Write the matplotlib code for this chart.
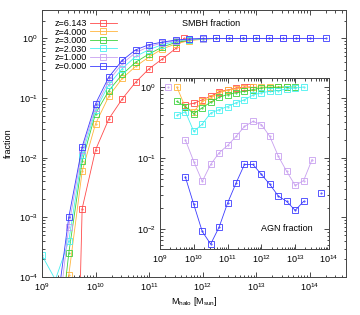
import numpy as np
import matplotlib
matplotlib.use('Agg')
import matplotlib.pyplot as plt

plt.rcParams['font.family'] = ['Liberation Sans', 'DejaVu Sans']
plt.rcParams['mathtext.fontset'] = 'custom'
plt.rcParams['mathtext.rm'] = 'Liberation Sans'
plt.rcParams['mathtext.it'] = 'Liberation Sans:italic'
plt.rcParams['font.size'] = 6.5

labels = ['z=6.143', 'z=4.000', 'z=3.000', 'z=2.030', 'z=1.000', 'z=0.000']
colors = ['#ff4a4a', '#ffb43c', '#3cd23c', '#46f0f0', '#c8a0f0', '#3c3cff']

# SMBH fraction (main panel), log10 halo mass and fraction
smbh_logm = [
    [9.5, 9.75, 10.0, 10.25, 10.5, 10.75, 11.0, 11.25, 11.5, 11.65],
    [9.25, 9.5, 9.75, 10.0, 10.25, 10.5, 10.75, 11.0, 11.25, 11.5, 11.75, 12.0, 12.25, 12.5, 12.75],
    [9.25, 9.5, 9.75, 10.0, 10.25, 10.5, 10.75, 11.0, 11.25, 11.5, 11.75, 12.0, 12.25, 12.5, 12.75, 13.0],
    [9.0, 9.25, 9.5, 9.75, 10.0, 10.25, 10.5, 10.75, 11.0, 11.25, 11.5, 11.75, 12.0, 12.25, 12.5, 12.75, 13.0, 13.25],
    [9.25, 9.5, 9.75, 10.0, 10.25, 10.5, 10.75, 11.0, 11.25, 11.5, 11.75, 12.0, 12.25, 12.5, 12.75, 13.0,
     13.25, 13.5, 13.75, 14.0],
    [9.25, 9.5, 9.75, 10.0, 10.25, 10.5, 10.75, 11.0, 11.25, 11.5, 11.75, 12.0, 12.25, 12.5, 12.75, 13.0,
     13.25, 13.5, 13.75, 14.0, 14.3],
]
smbh_frac = [
    [1e-12, 1.4e-3, 0.0135, 0.045, 0.097, 0.185, 0.31, 0.455, 0.68, 1.0],
    [1e-6, 1.07e-4, 0.0059, 0.037, 0.108, 0.215, 0.34, 0.49, 0.67, 0.81, 0.92, 0.97, 1.0, 1.0, 1.0],
    [2.5e-6, 2.5e-4, 0.0087, 0.055, 0.134, 0.25, 0.40, 0.55, 0.72, 0.86, 0.94, 0.98, 1.0, 1.0, 1.0, 1.0],
    [2.3e-4, 9e-5, 4e-4, 0.0112, 0.062, 0.169, 0.313, 0.50, 0.65, 0.79, 0.89, 0.96, 0.99,
     1.0, 1.0, 1.0, 1.0, 1.0],
    [8e-6, 7e-4, 0.0135, 0.069, 0.197, 0.38, 0.58, 0.73, 0.84, 0.92, 0.97, 0.99,
     1.0, 1.0, 1.0, 1.0, 1.0, 1.0, 1.0, 1.0],
    [2e-5, 1.0e-3, 0.0153, 0.080, 0.227, 0.43, 0.645, 0.787, 0.87, 0.94, 0.98,
     1.0, 1.0, 1.0, 1.0, 1.0, 1.0, 1.0, 1.0, 1.0, 1.0],
]

# AGN fraction (inset), nan = empty bin
agn_logm = [
    [9.75, 10.0, 10.25, 10.5, 10.75, 11.0, 11.25, 11.5, 11.65],
    [9.5, 9.75, 10.0, 10.25, 10.5, 10.75, 11.0, 11.25, 11.5, 11.75, 12.0, 12.25, 12.5, 12.75],
    [9.5, 9.75, 10.0, 10.25, 10.5, 10.75, 11.0, 11.25, 11.5, 11.75, 12.0, 12.25, 12.5, 12.75, 13.0],
    [9.5, 9.75, 10.0, 10.25, 10.5, 10.75, 11.0, 11.25, 11.5, 11.75, 12.0, 12.25, 12.5, 12.75, 13.0, 13.25],
    [9.25, 9.5, 9.75, 10.0, 10.25, 10.5, 10.75, 11.0, 11.25, 11.5, 11.75, 12.0, 12.25, 12.5, 12.75, 13.0,
     13.25, 13.5],
    [9.75, 10.0, 10.25, 10.5, 10.75, 11.0, 11.25, 11.5, 11.75, 12.0, 12.25, 12.5, 12.75, 13.0, 13.25,
     13.5, 13.75],
]
agn_frac = [
    [0.56, 0.59, 0.66, 0.74, 0.86, 0.91, 0.97, 1.0, 1.0],
    [1.0, 0.52, 0.45, 0.625, 0.70, 0.83, 0.90, 0.94, 0.97, 0.99, 1.0, 1.0, 1.0, 1.0],
    [0.625, 0.53, 0.42, 0.51, 0.61, 0.72, 0.78, 0.83, 0.87, 0.92, 0.97, 0.98, 0.99, 1.0, 1.0],
    [0.40, 0.45, 0.236, 0.30, 0.43, 0.48, 0.53, 0.60, 0.66, 0.77, 0.83, 0.87, 0.89, 0.94, 0.97, 1.0],
    [1.0, np.nan, 0.18, 0.089, 0.0467, 0.081, 0.118, 0.15, 0.201, 0.278, 0.327, 0.296, 0.201, 0.106,
     0.0645, 0.041, 0.048, 0.095],
    [0.054, 0.0221, 0.0092, 0.0061, 0.0106, 0.0231, 0.0442, 0.081, 0.081, 0.0586, 0.0424, 0.029,
     0.0244, 0.0182, 0.0244, np.nan, 0.0324],
]


def draw(ax, xs, ys, color, label=None):
    x = 10 ** np.array(xs)
    y = np.array(ys)
    ax.plot(x, y, '-', color=color, lw=0.6, marker='s', ms=3.8, mfc='none',
            mec=color, mew=0.6, label=label)
    ax.plot(x, y, ls='none', marker='.', ms=1.0, color=color)


def style(ax):
    ax.set_xscale('log')
    ax.set_yscale('log')
    ax.tick_params(which='both', direction='in', top=True, right=True, labelsize=6.5, pad=3)
    ax.tick_params(which='major', length=3.5, width=0.5)
    ax.tick_params(which='minor', length=1.8, width=0.5)
    for s in ax.spines.values():
        s.set_linewidth(0.7)
        s.set_color('#444444')


fig = plt.figure(figsize=(3.6, 3.15), dpi=100)
ax = fig.add_axes([0.1167, 0.1206, 0.8444, 0.8476])
for xs, ys, c, lab in zip(smbh_logm, smbh_frac, colors, labels):
    draw(ax, xs, ys, c, lab)
style(ax)
ax.set_xlim(1e9, 4.8e14)
ax.set_ylim(1e-4, 3.0)
ax.set_xlabel(r'M$_{\rm halo}$ [M$_{\rm sun}$]', fontsize=6.5)
ax.xaxis.set_label_coords(0.5, -0.068)
ax.set_ylabel('fraction', fontsize=6.5)
ax.yaxis.set_label_coords(-0.095, 0.5)
ax.text(0.46, 0.95, 'SMBH fraction', transform=ax.transAxes, fontsize=6.5, va='center')
ax.legend(loc='upper left', frameon=False, markerfirst=False, handlelength=2.9,
          labelspacing=-0.05, borderaxespad=0.3, handletextpad=0.4, fontsize=6.5,
          bbox_to_anchor=(0.02, 0.99))

ins = fig.add_axes([0.4444, 0.2095, 0.4694, 0.5429])
ins.set_facecolor('white')
for xs, ys, c in zip(agn_logm, agn_frac, colors):
    draw(ins, xs, ys, c)
style(ins)
ins.set_xlim(1e9, 1e14)
ins.set_ylim(5.2e-3, 1.34)
ins.text(0.60, 0.12, 'AGN fraction', transform=ins.transAxes, fontsize=6.5, va='center')

fig.savefig('out.png', dpi=100)
